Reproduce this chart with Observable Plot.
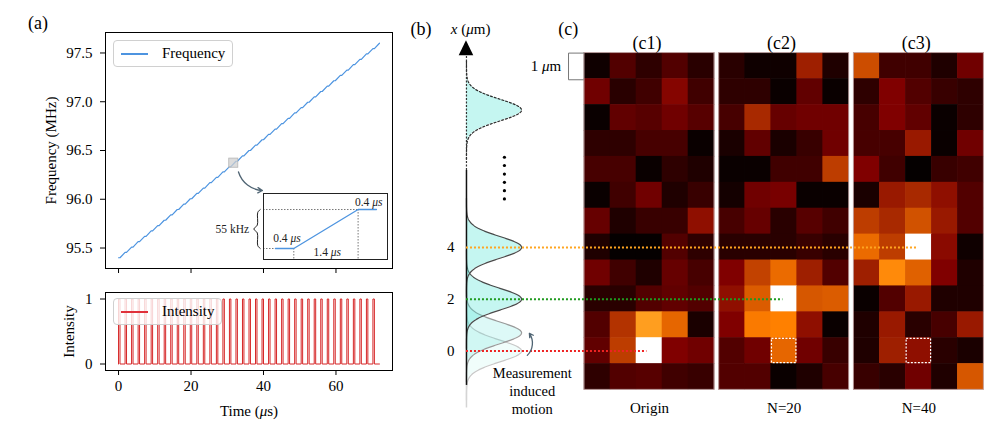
<!DOCTYPE html>
<html><head><meta charset="utf-8">
<script src="https://cdn.jsdelivr.net/npm/d3@7"></script>
<script src="https://cdn.jsdelivr.net/npm/@observablehq/plot@0.6"></script>
<style>
body{margin:0;background:#fff;}
#fig{position:relative;width:997px;height:422px;overflow:hidden;font-family:"Liberation Serif",serif;color:#000;background:#fff;}
#fig > *{position:absolute;}
.legend{border:1px solid #d0d0d0;border-radius:4px;background:rgba(255,255,255,0.8);box-sizing:border-box;font-size:15px;}
.legend .sw{position:absolute;left:7px;top:12px;width:27px;height:1.6px;}
.legend .lb{position:absolute;left:48px;top:2px;line-height:21px;}
</style></head><body><div id="fig"></div><script>
// ---------- data: panel (a) ----------
const stepTimes = [0,1.8,3.6,5.4,7.2,9,10.8,12.6,14.4,16.2,18,19.8,21.6,23.4,25.2,27,28.8,30.6,32.4,34.2,36,37.8,39.6,41.4,43.2,45,46.8,48.6,50.4,52.2,54,55.8,57.6,59.4,61.2,63,64.8,66.6,68.4,70.2,72];
const freqLevels = [95.400,95.455,95.510,95.565,95.620,95.675,95.730,95.785,95.840,95.895,95.950,96.005,96.060,96.115,96.170,96.225,96.280,96.335,96.390,96.445,96.500,96.555,96.610,96.665,96.720,96.775,96.830,96.885,96.940,96.995,97.050,97.105,97.160,97.215,97.270,97.325,97.380,97.435,97.490,97.545,97.600];
const holdTime = 0.4;   // µs (flat part, light on)
const rampTime = 1.4;   // µs
const timeTicks = [0,20,40,60];
const freqTicks = [95.5,96.0,96.5,97.0,97.5];
const intensityTicks = [0,1];
const zoomMarker = {t:31.8, f:96.37, halfT:1.25, halfF:0.047};
const zoomArrow = {t1:33.1, f1:96.28, t2:39.7, f2:96.09};
// inset (one step)
const insetTimes = [0, 0.4, 1.8, 2.2];
const insetFreq = [0, 0, 55, 55]; // kHz relative
const insetLabels = [
  {t:0.25, f:14.5, text:"0.4 μs"},
  {t:1.13, f:-5.5, text:"1.4 μs"},
  {t:2.03, f:65.5, text:"0.4 μs"},
  {t:-0.94, f:27, text:"55 kHz"}
];
const bracePts = [[-0.33,55],[-0.385,51],[-0.395,33],[-0.47,27.5],[-0.395,22],[-0.385,4],[-0.33,0]];

// ---------- data: panel (b) ----------
const axisPos = -4.54;
const gaussAmp = 2.12;
const gaussSigma = 0.42;
const gaussCenters = [0, 0.7, 2, 4, 9.3];
const gaussFillOpacity = [0.08, 0.18, 0.3, 0.3, 0.3];
const gaussStroke = ["#c8c8c8", "#9a9a9a", "#4a4a4a", "#4a4a4a", "#2a2a2a"];
const gaussDash = [null, null, null, null, "2,2"];
const positionTicks = [0, 2, 4];
const ellipsisDots = [5.87, 6.19, 6.51, 6.83, 7.16, 7.48];

// ---------- data: panel (c) ----------
const panelNames = ["(c1)", "(c2)", "(c3)"];
const panelCaptions = ["Origin", "N=20", "N=40"];
const panelStep = 5.18;
const c1 = [
[0.03,0.16,0.09,0.16,0.08],
[0.22,0.08,0.125,0.26,0.125],
[0.02,0.19,0.17,0.22,0.17],
[0.09,0.09,0.14,0.14,0.02],
[0.14,0.14,0.02,0.09,0.06],
[0.02,0.125,0.22,0.06,0.11],
[0.2,0.06,0.11,0.11,0.28],
[0.06,0.01,0.01,0.16,0.09],
[0.22,0.125,0.06,0.2,0.14],
[0.08,0.08,0.16,0.19,0.16],
[0.16,0.35,0.56,0.45,0.05],
[0.19,0.37,1.0,0.25,0.22],
[0.09,0.16,0.17,0.125,0.11]];
const c2 = [
[0.08,0.03,0.03,0.31,0.06],
[0.09,0.09,0.02,0.19,0.02],
[0.14,0.33,0.2,0.22,0.22],
[0.05,0.19,0.05,0.11,0.22],
[0.02,0.02,0.125,0.125,0.37],
[0.04,0.22,0.235,0.02,0.02],
[0.14,0.2,0.08,0.17,0.125],
[0.08,0.08,0.08,0.11,0.08],
[0.25,0.38,0.46,0.31,0.16],
[0.28,0.43,1.0,0.42,0.43],
[0.25,0.49,0.5,0.28,0.02],
[0.16,0.22,0.45,0.22,0.11],
[0.16,0.16,0.02,0.06,0.14]];
const c3 = [
[0.4,0.125,0.125,0.06,0.22],
[0.09,0.25,0.16,0.11,0.09],
[0.14,0.25,0.19,0.02,0.09],
[0.14,0.14,0.3,0.02,0.22],
[0.25,0.125,0.01,0.11,0.125],
[0.05,0.3,0.33,0.28,0.16],
[0.37,0.33,0.41,0.3,0.16],
[0.46,0.37,1.0,0.27,0.03],
[0.31,0.52,0.44,0.25,0.06],
[0.02,0.16,0.3,0.06,0.06],
[0.06,0.3,0.08,0.14,0.3],
[0.06,0.31,0.28,0.08,0.05],
[0.11,0.08,0.22,0.06,0.42]];
const heatmaps = [c1, c2, c3];
const rowTop = 11.5; // µm at top edge of row 0
const markedCells = [{panel:1,col:2,row:11},{panel:2,col:2,row:11}];
const guideLines = [
  {y:0, panel:0, col:2.4, color:"#ee2222"},
  {y:2, panel:1, col:2.45, color:"#1f9a1f"},
  {y:4, panel:2, col:2.44, color:"#ffa520"}
];

// ---------- helpers ----------
const FONT = '"Liberation Serif", serif';
const baseStyle = (fs) => ({fontFamily: FONT, fontSize: fs, background: "transparent", overflow: "visible"});
const afmhot = t => {
  const c = v => Math.round(255 * Math.max(0, Math.min(1, v)));
  return `rgb(${c(2*t)},${c(2*t-0.5)},${c(2*t-1)})`;
};

// ---------- panel (a) top ----------
const freqPoints = stepTimes.flatMap((t, i) => i < stepTimes.length - 1
  ? [{t, f: freqLevels[i]}, {t: t + holdTime, f: freqLevels[i]}]
  : [{t, f: freqLevels[i]}]);
const A1 = Plot.plot({
  width: 400, height: 280, marginLeft: 105, marginRight: 8, marginTop: 32, marginBottom: 12,
  style: baseStyle("15px"),
  x: {domain: [-3.6, 75.6], axis: null},
  y: {domain: [95.29, 97.71], axis: null},
  marks: [
    Plot.axisX({ticks: timeTicks, tickFormat: () => "", tickSize: 5, label: null}),
    Plot.axisY({ticks: freqTicks, tickFormat: d => d.toFixed(1), tickSize: 5, tickPadding: 8,
      label: "Frequency (MHz)", labelAnchor: "center", labelOffset: 60, labelArrow: "none"}),
    Plot.line(freqPoints, {x: "t", y: "f", stroke: "#4d94e0", strokeWidth: 1.2}),
    Plot.rect([zoomMarker], {x1: d => d.t - d.halfT, x2: d => d.t + d.halfT, y1: d => d.f - d.halfF, y2: d => d.f + d.halfF,
      fill: "#cfcfcf", fillOpacity: 0.75, stroke: "#b5b5b5", strokeWidth: 0.8}),
    Plot.arrow([zoomArrow], {x1: "t1", y1: "f1", x2: "t2", y2: "f2", bend: -35, stroke: "#4f6473", strokeWidth: 1.3, headLength: 6}),
    Plot.frame({stroke: "black"}),
    Plot.text([{t: -22.2, f: 97.8, label: "(a)"}], {x: "t", y: "f", text: "label", fontSize: 18})
  ]
});
A1.style.left = "0px"; A1.style.top = "0px";

// ---------- inset ----------
const insetPts = insetTimes.map((t, i) => ({t, f: insetFreq[i]}));
const INSET_X0 = -0.26, INSET_Y0 = -15.5;
const Inset = Plot.plot({
  width: 184, height: 72, marginLeft: 58, marginRight: 2, marginTop: 3, marginBottom: 3,
  style: baseStyle("11.5px"),
  x: {domain: [INSET_X0, 2.44], axis: null},
  y: {domain: [INSET_Y0, 77.6], axis: null},
  marks: [
    Plot.frame({fill: "white", stroke: null}),
    Plot.ruleY([insetFreq[2]], {x1: INSET_X0, x2: insetTimes[2], stroke: "#777", strokeDasharray: "1.5,1.5"}),
    Plot.ruleY([insetFreq[0]], {x1: INSET_X0, x2: insetTimes[0], stroke: "#777", strokeDasharray: "1.5,1.5"}),
    Plot.ruleX([insetTimes[1]], {y1: insetFreq[1], y2: INSET_Y0, stroke: "#777", strokeDasharray: "1.5,1.5"}),
    Plot.ruleX([insetTimes[2]], {y1: insetFreq[2], y2: INSET_Y0, stroke: "#777", strokeDasharray: "1.5,1.5"}),
    Plot.line(insetPts, {x: "t", y: "f", stroke: "#4d94e0", strokeWidth: 1.3}),
    Plot.text(insetLabels, {x: "t", y: "f", text: "text", fill: "#222"}),
    Plot.line(bracePts, {x: d => d[0], y: d => d[1], curve: "catmull-rom", stroke: "#222", strokeWidth: 1}),
    Plot.frame({stroke: "#222"})
  ]
});
Inset.style.left = "205px"; Inset.style.top = "190px";

// ---------- panel (a) bottom ----------
const intensityPoints = stepTimes.slice(0, -1).flatMap(t => [
  {t, v: intensityTicks[0]}, {t, v: intensityTicks[1]},
  {t: t + holdTime, v: intensityTicks[1]}, {t: t + holdTime, v: intensityTicks[0]}
]).concat([{t: stepTimes[stepTimes.length - 1], v: 0}]);
const A2 = Plot.plot({
  width: 400, height: 142, marginLeft: 105, marginRight: 8, marginTop: 12, marginBottom: 52,
  style: baseStyle("15px"),
  x: {domain: [-3.6, 75.6], axis: null},
  y: {domain: [-0.1, 1.1], axis: null},
  marks: [
    Plot.axisX({ticks: timeTicks, tickSize: 5, tickPadding: 5, label: "Time (μs)", labelAnchor: "center", labelOffset: 45, labelArrow: "none"}),
    Plot.axisY({ticks: intensityTicks, tickFormat: d => String(d), tickSize: 5, tickPadding: 8, label: "Intensity", labelAnchor: "center", labelOffset: 42, labelArrow: "none"}),
    Plot.line(intensityPoints, {x: "t", y: "v", stroke: "#d62728", strokeWidth: 1}),
    Plot.frame({stroke: "black"})
  ]
});
A2.style.left = "0px"; A2.style.top = "280px";

// ---------- panels (b) + (c) ----------
const gaussMarks = gaussCenters.flatMap((c, k) => {
  const pts = d3.range(c - 1.9, c + 1.9001, 0.02).map(y => ({y, x2: axisPos + gaussAmp * Math.exp(-((y - c) ** 2) / (2 * gaussSigma ** 2))}));
  return [
    Plot.areaX(pts, {y: "y", x1: axisPos, x2: "x2", fill: "#40e0d0", fillOpacity: gaussFillOpacity[k]}),
    Plot.lineX(pts, {y: "y", x: "x2", stroke: gaussStroke[k], strokeWidth: 1.2, strokeDasharray: gaussDash[k]})
  ];
});
const cells = heatmaps.flatMap((m, p) => m.flatMap((row, r) => row.map((v, c) => ({
  x1: p * panelStep + c, x2: p * panelStep + c + 1, y1: rowTop - r - 1, y2: rowTop - r, v
}))));
const panelBoxes = heatmaps.map((m, p) => ({x1: p * panelStep, x2: p * panelStep + m[0].length, y1: rowTop - m.length, y2: rowTop}));
const markBoxes = markedCells.map(d => ({x1: d.panel * panelStep + d.col + 0.03, x2: d.panel * panelStep + d.col + 0.97, y1: rowTop - d.row - 1 + 0.03, y2: rowTop - d.row - 0.03}));
const BC = Plot.plot({
  width: 597, height: 422, marginLeft: 57, marginRight: 10, marginTop: 52.6, marginBottom: 32.65,
  style: baseStyle("15px"),
  x: {domain: [-4.885, 15.5], axis: null},
  y: {domain: [-1.5, 11.5], axis: null},
  color: {type: "linear", domain: [0, 1], interpolate: afmhot},
  marks: [
    ...gaussMarks,
    Plot.ruleX([axisPos], {y1: -2.2, y2: -1.33, stroke: "#d4d4d4", strokeWidth: 1.5}),
    Plot.ruleX([axisPos], {y1: -1.33, y2: 6.97, stroke: "#111", strokeWidth: 1.5}),
    Plot.ruleX([axisPos], {y1: 6.97, y2: 11.45, stroke: "#333", strokeWidth: 1.2, strokeDasharray: "2,1.5"}),
    Plot.areaX([{y: 11.4, a: axisPos - 0.28, b: axisPos + 0.28}, {y: 11.98, a: axisPos, b: axisPos}], {y: "y", x1: "a", x2: "b", fill: "black"}),
    Plot.axisY({ticks: positionTicks, tickSize: 0, tickPadding: 3, label: null}),
    Plot.rect(cells, {x1: "x1", x2: "x2", y1: "y1", y2: "y2", fill: "v", inset: -0.3}),
    Plot.rect(panelBoxes, {x1: "x1", x2: "x2", y1: "y1", y2: "y2", fill: null, stroke: "#c4a8a8", strokeWidth: 0.9}),
    Plot.rect(markBoxes, {x1: "x1", x2: "x2", y1: "y1", y2: "y2", fill: null, stroke: "white", strokeWidth: 1.2, strokeDasharray: "2,1.5"}),
    Plot.ruleY(guideLines, {y: "y", x1: axisPos, x2: d => d.panel * panelStep + d.col, stroke: "color", strokeWidth: 2, strokeDasharray: "2,2"}),
    Plot.dot(ellipsisDots, {x: -3.08, y: d => d, r: 1.6, fill: "black"}),
    Plot.arrow([{x1: -2.2, y1: -0.17, x2: -2.12, y2: 0.68}], {x1: "x1", y1: "y1", x2: "x2", y2: "y2", bend: -40, stroke: "#4f6473", strokeWidth: 1.3, headLength: 5}),
    Plot.text(["Measurement\ninduced\nmotion"], {x: -2.01, y: -1.52, text: d => d, fontSize: 14.5, lineHeight: 1.22}),
    Plot.line([[-0.04, 11.5], [-0.615, 11.5], [-0.615, 10.47], [-0.04, 10.47]], {x: d => d[0], y: d => d[1], stroke: "#777", strokeWidth: 1}),
    Plot.text(["1 μm"], {x: -1.48, y: 10.98, text: d => d}),
    Plot.text(["(b)"], {x: -6.29, y: 12.44, text: d => d, fontSize: 18}),
    Plot.text(["x (μm)"], {x: -4.38, y: 12.44, text: d => d}),
    Plot.text(["(c)"], {x: -0.63, y: 12.44, text: d => d, fontSize: 18}),
    Plot.text(panelNames, {x: (d, i) => i * panelStep + 2.4, y: 11.87, text: d => d, fontSize: 18}),
    Plot.text(panelCaptions, {x: (d, i) => i * panelStep + 2.5, y: -2.22, text: d => d})
  ]
});
BC.style.left = "400px"; BC.style.top = "0px";

const fig = document.getElementById("fig");
[A1, A2, BC, Inset].forEach(s => fig.appendChild(s));

// legends
function legend(left, top, w, color, label) {
  const d = document.createElement("div");
  d.className = "legend";
  Object.assign(d.style, {left: left + "px", top: top + "px", width: w + "px", height: "27px"});
  d.innerHTML = `<div class="sw" style="background-color:${color}"></div><div class="lb">${label}</div>`;
  fig.appendChild(d);
}
legend(113, 40, 120, "#4d94e0", "Frequency");
legend(113, 298, 109, "#e0303a", "Intensity");

// italic math symbols
fig.querySelectorAll("svg text, svg tspan").forEach(t => {
  if (t.children.length) return;
  const s = t.textContent;
  if (!s.includes("μ")) return;
  let h;
  if (s === "x (μm)") h = '<tspan font-style="italic">x</tspan> (<tspan font-style="italic">μ</tspan>m)';
  else if (/^\d\.\d μs$/.test(s)) h = s.replace("μs", '<tspan font-style="italic">μs</tspan>');
  else h = s.replace("μ", '<tspan font-style="italic">μ</tspan>');
  t.innerHTML = h;
});
</script></body></html>
